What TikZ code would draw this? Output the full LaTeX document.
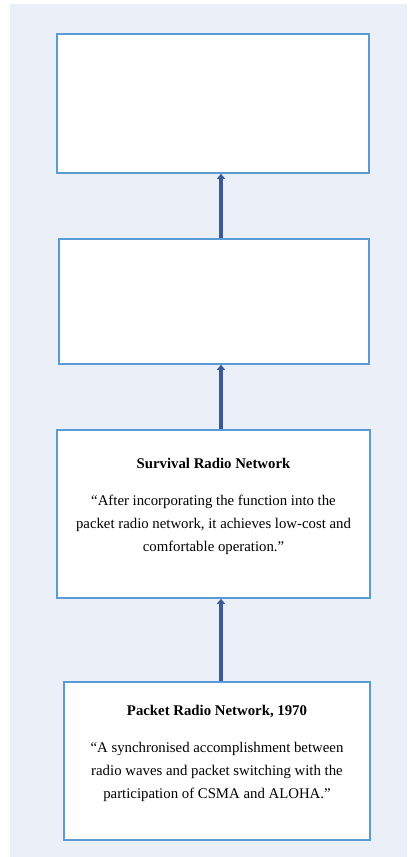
\documentclass[tikz,border=0pt]{standalone}
\usepackage{fontspec}
\setmainfont{Liberation Serif}
\usetikzlibrary{arrows.meta}
\definecolor{panel}{RGB}{235,239,248}
\definecolor{edge}{RGB}{91,155,213}
\definecolor{shaft}{RGB}{59,89,152}
\newcommand{\stage}[2]{\textbf{#1}\\[14bp]#2\rule[-18bp]{0pt}{0pt}}

\begin{document}
\begin{tikzpicture}[x=1bp,y=-1bp,
    stagebox/.style={draw=edge,line width=1.5bp,fill=white,align=center,inner sep=0pt,
      font=\fontsize{14.8bp}{23bp}\selectfont},
    uparrow/.style={draw=shaft,line width=4bp,-{Triangle[length=5bp,width=8bp]}}]
       \useasboundingbox (0,0) rectangle (407,857);
       \fill[panel] (10,4) rectangle (407,857);
       \node[stagebox,minimum width=312bp,minimum height=139bp] (top) at (213,103.5) {};
       \node[stagebox,minimum width=310bp,minimum height=125bp] (b2) at (214,301.5) {};
       \node[stagebox,minimum width=313bp,minimum height=168bp] (b3) at (213.5,514) {\stage{Survival Radio Network}{“After incorporating the function into the\\ packet radio network, it achieves low-cost and\\ comfortable operation.”}};
       \node[stagebox,minimum width=306bp,minimum height=158bp] (b4) at (217,761) {\stage{Packet Radio Network, 1970}{“A synchronised accomplishment between\\ radio waves and packet switching with the\\ participation of CSMA and ALOHA.”}};
       \coordinate (axis) at (221,0);
       \foreach \a/\b in {b4/b3,b3/b2,b2/top} {
       \draw[uparrow] (\a.north -| axis) -- (\b.south -| axis);}
\end{tikzpicture}
\end{document}
